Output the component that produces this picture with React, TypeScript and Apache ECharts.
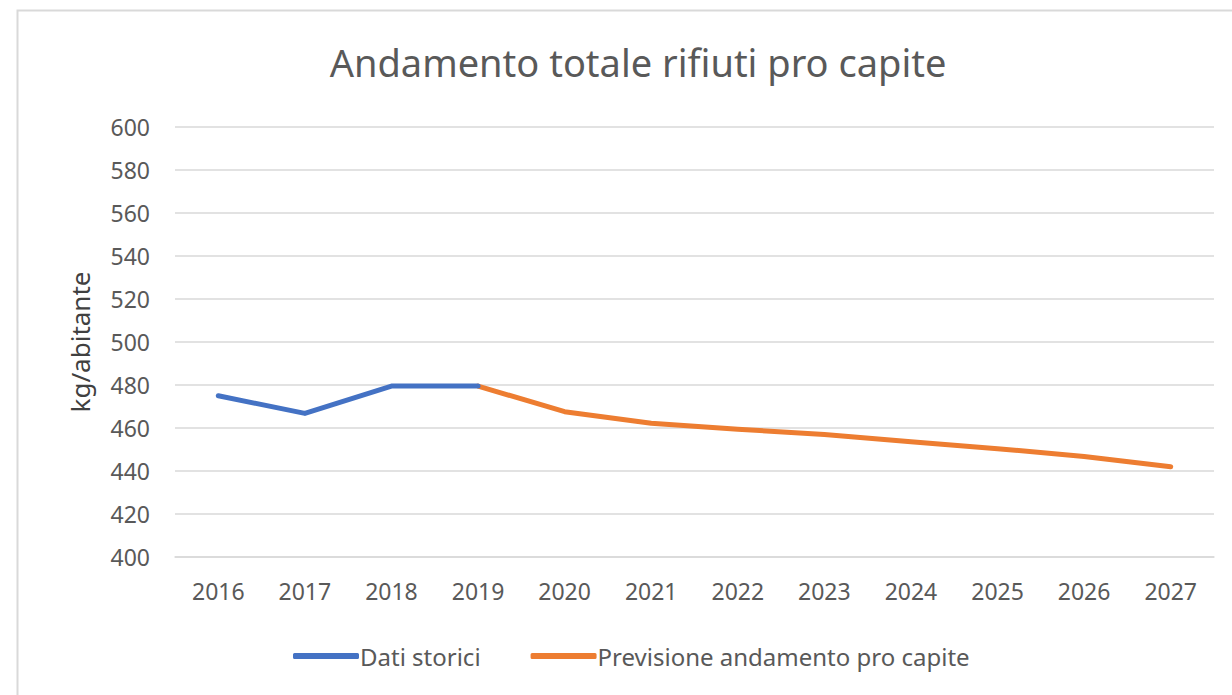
import React, { useEffect, useRef } from "react";
import * as echarts from "echarts";

const years = ["2016", "2017", "2018", "2019", "2020", "2021", "2022", "2023", "2024", "2025", "2026", "2027"];
const storici = [475, 466.8, 479.5, 479.5, null, null, null, null, null, null, null, null];
const previsione = [null, null, null, 479.5, 467.6, 462.2, 459.4, 457, 453.6, 450.4, 446.7, 442];

export default function App() {
  const ref = useRef<HTMLDivElement>(null);
  useEffect(() => {
    const chart = echarts.init(ref.current!, null, { renderer: "svg" });
    const font = "Noto Sans";
    chart.setOption({
      animation: false,
      backgroundColor: "#ffffff",
      graphic: [
        {
          type: "rect",
          shape: { x: 17.5, y: 10.5, width: 1240, height: 700 },
          style: { fill: "none", stroke: "#d9d9d9", lineWidth: 2 },
          silent: true,
        },
      ],
      title: {
        text: "Andamento totale rifiuti pro capite",
        left: 633,
        textAlign: "center",
        top: 38,
        textStyle: { fontFamily: font, fontSize: 38, fontWeight: "normal", color: "#595959" },
      },
      legend: {
        bottom: 22,
        left: 288,
        itemWidth: 66,
        itemHeight: 6,
        itemGap: 50,
        icon: "roundRect",
        textStyle: { fontFamily: font, fontSize: 24, color: "#595959", padding: [0, 0, 0, -4] },
        data: ["Dati storici", "Previsione andamento pro capite"],
      },
      grid: { left: 175, right: 18, top: 127, bottom: 138 },
      xAxis: {
        type: "category",
        data: years,
        boundaryGap: true,
        axisLine: { show: true, lineStyle: { color: "#d9d9d9", width: 1.5 } },
        axisTick: { show: false },
        axisLabel: { fontFamily: font, fontSize: 23, color: "#595959", margin: 22 },
      },
      yAxis: {
        type: "value",
        min: 400,
        max: 600,
        interval: 20,
        name: "kg/abitante",
        nameLocation: "middle",
        nameGap: 82,
        nameRotate: 90,
        nameTextStyle: { fontFamily: font, fontSize: 26, color: "#404040" },
        axisLine: { show: false },
        axisTick: { show: false },
        axisLabel: { fontFamily: font, fontSize: 23, color: "#595959", margin: 25 },
        splitLine: { lineStyle: { color: "#d9d9d9", width: 1.5 } },
      },
      series: [
        {
          name: "Dati storici",
          type: "line",
          data: storici,
          showSymbol: false,
          symbol: "none",
          lineStyle: { color: "#4472C4", width: 5, cap: "round", join: "round" },
          itemStyle: { color: "#4472C4" },
          z: 3,
        },
        {
          name: "Previsione andamento pro capite",
          type: "line",
          data: previsione,
          showSymbol: false,
          symbol: "none",
          lineStyle: { color: "#ED7D31", width: 5, cap: "round", join: "round" },
          itemStyle: { color: "#ED7D31" },
          z: 2,
        },
      ],
    });
    return () => chart.dispose();
  }, []);
  return (
    <div
      ref={ref}
      style={{ position: "fixed", left: 0, top: 0, width: 1232, height: 695 }}
    />
  );
}
